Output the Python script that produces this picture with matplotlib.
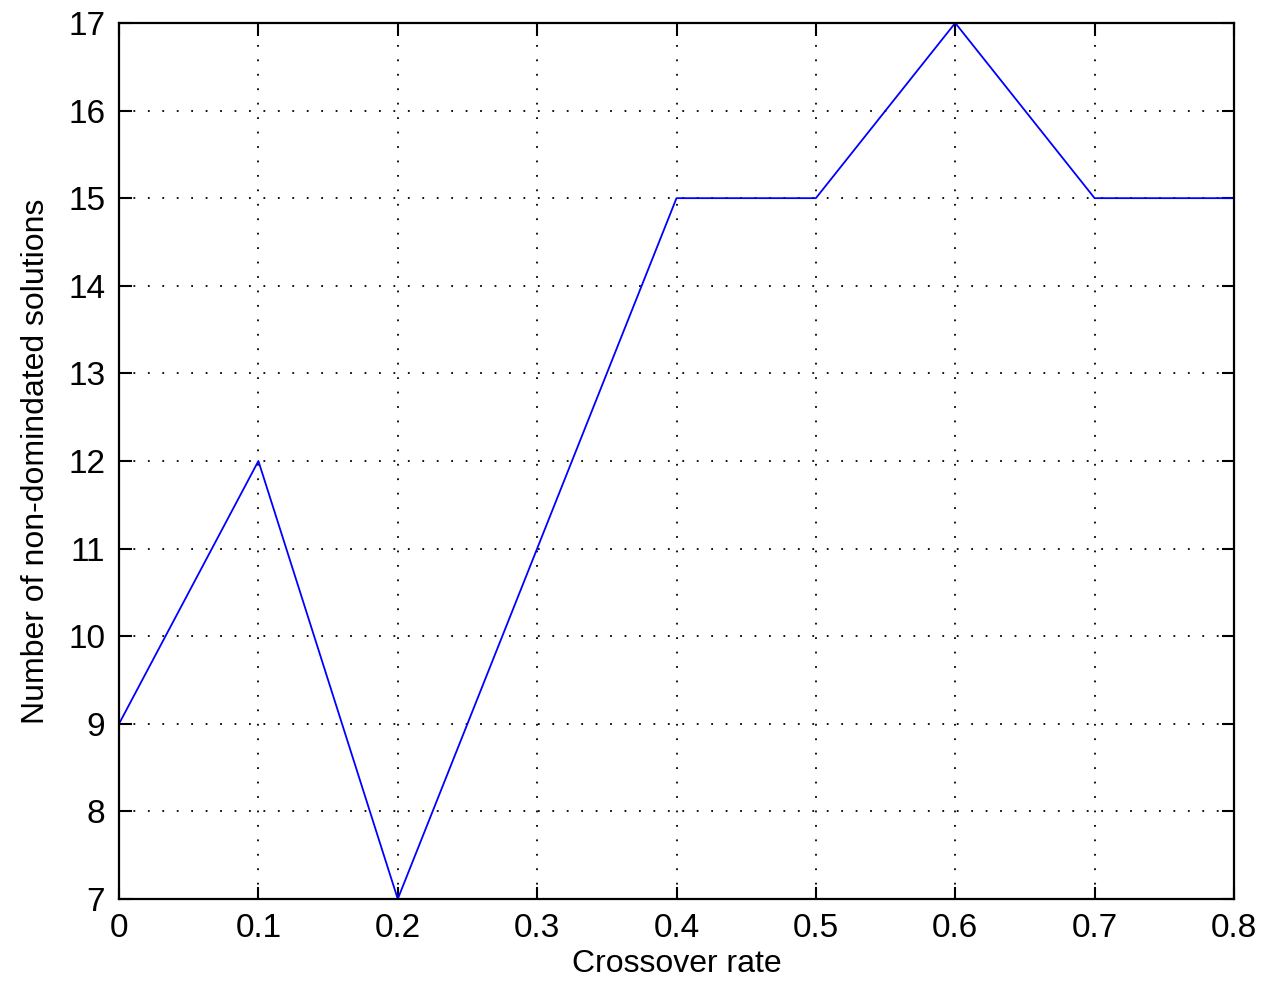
import matplotlib
matplotlib.use("Agg")
from matplotlib import pyplot as plt
import numpy as np

crossover_rate = [0, 0.1, 0.2, 0.3, 0.4, 0.5, 0.6, 0.7, 0.8]
num_solutions = [9, 12, 7, 11, 15, 15, 17, 15, 15]

x_ticks = [0, 0.1, 0.2, 0.3, 0.4, 0.5, 0.6, 0.7, 0.8]
x_tick_labels = ["0", "0.1", "0.2", "0.3", "0.4", "0.5", "0.6", "0.7", "0.8"]
y_ticks = [7, 8, 9, 10, 11, 12, 13, 14, 15, 16, 17]

plt.rcParams["font.family"] = ["Liberation Sans", "DejaVu Sans"]

fig = plt.figure(figsize=(12.69, 9.98), dpi=100)
ax = fig.add_axes([0.0938, 0.0992, 0.8786, 0.8778])

ax.plot(crossover_rate, num_solutions, color="#0000ff", lw=1.3)

ax.set_xlim(0, 0.8)
ax.set_ylim(7, 17)
ax.set_xticks(x_ticks)
ax.set_xticklabels(x_tick_labels)
ax.set_yticks(y_ticks)

ax.grid(True, color="black", linestyle=(0, (1, 7)), linewidth=1.3)
ax.tick_params(direction="in", length=9, width=1.5, labelsize=24,
               top=True, right=True, pad=10)
for sp in ax.spines.values():
    sp.set_linewidth(1.6)

ax.set_xlabel("Crossover rate", fontsize=23, labelpad=4)
ax.set_ylabel("Number of non-domindated solutions", fontsize=23, labelpad=12)

fig.savefig("out.png", dpi=100)
